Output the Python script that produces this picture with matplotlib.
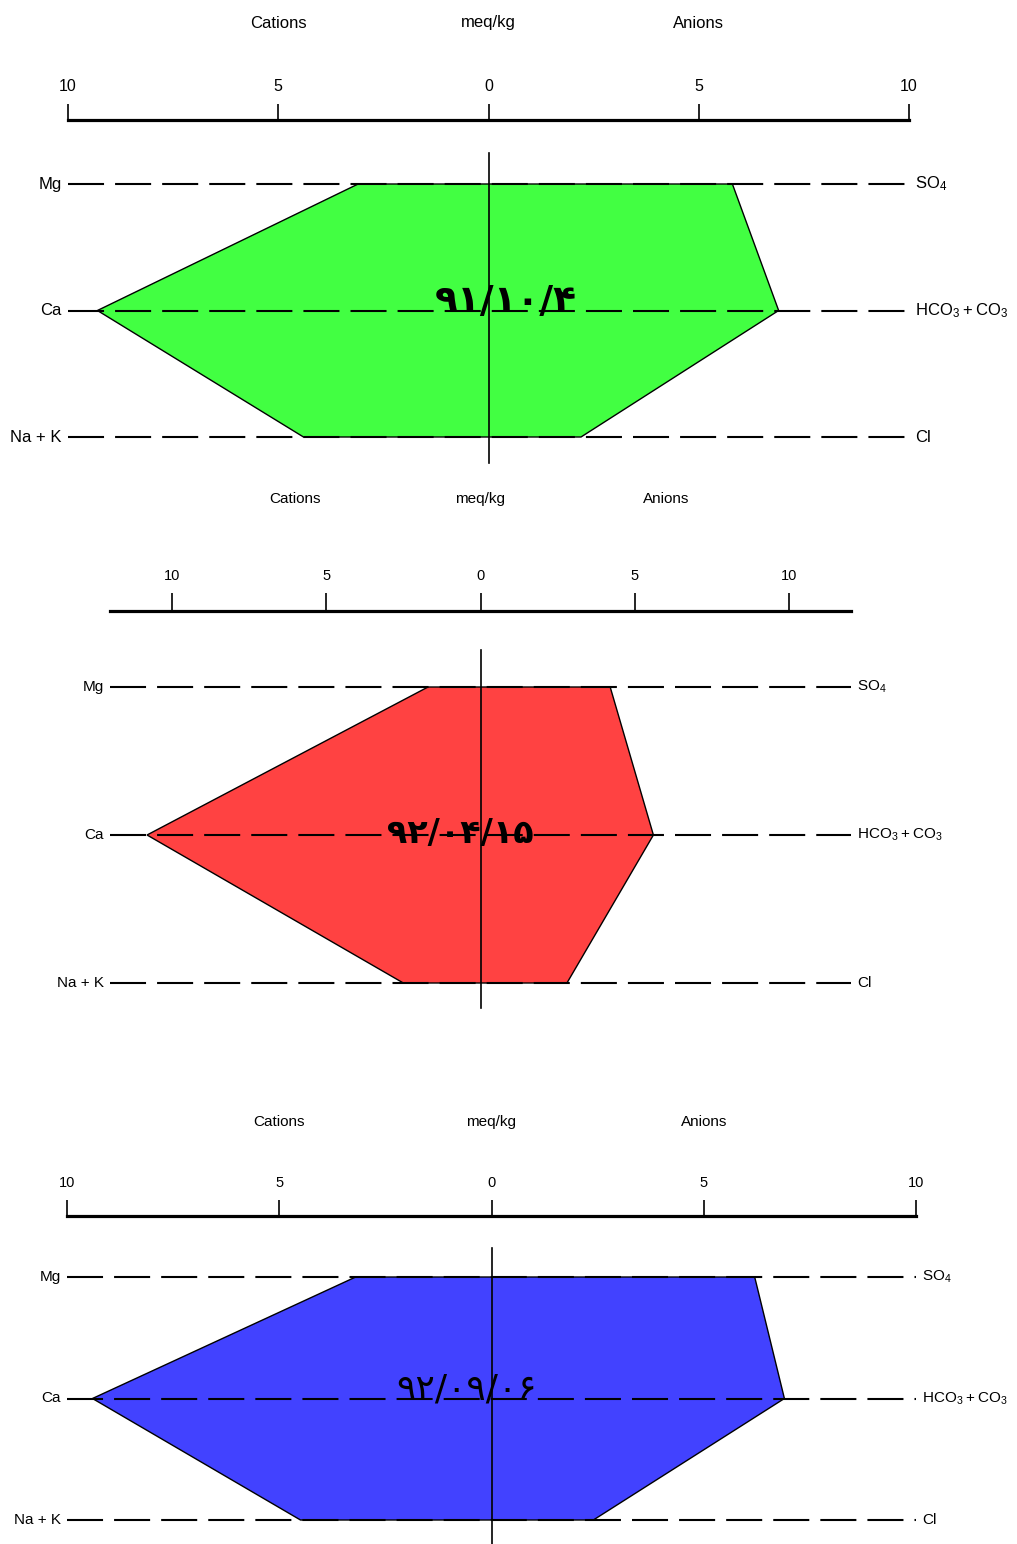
import matplotlib
matplotlib.use('Agg')
import matplotlib.pyplot as plt
from matplotlib.patches import Polygon
from matplotlib.ticker import FuncFormatter

plt.rcParams['font.family'] = ['Liberation Sans', 'DejaVu Sans']

# Stiff diagram data (meq/kg) for three sampling dates
cation_labels = ['Mg', 'Ca', 'Na + K']
anion_labels = [r'$\mathregular{SO_4}$', r'$\mathregular{HCO_3 + CO_3}$', 'Cl']
sample_dates = ['۹۱/۱۰/۴', '۹۲/۰۴/۱۵', '۹۲/۰۹/۰۶']
fill_colors = ['#42FF42', '#FF4242', '#4242FF']

mg = [3.1, 1.7, 3.2]
ca = [9.3, 10.8, 9.4]
na_k = [4.4, 2.5, 4.5]
so4 = [5.8, 4.2, 6.2]
hco3_co3 = [6.9, 5.6, 6.9]
cl = [2.2, 2.8, 2.4]

scale_limits = [10, 12, 10]
scale_ticks = [-10, -5, 0, 5, 10]

W, H = 1017, 1544
fig = plt.figure(figsize=(W / 100, H / 100), dpi=100)
fig.patch.set_facecolor('white')

# panel geometry in pixels
frames = [
    dict(left=68, right=909, top=120, row0=184, step=126.5, bottom=463,
         vtop=153, header=23, fs=12, tfs=11.5, tick=16, date_fs=27, bold=True,
         dx=0.4, dy=0.93),
    dict(left=110, right=851, top=611, row0=687, step=148, bottom=1008,
         vtop=650, header=499, fs=11, tfs=10.5, tick=18, date_fs=24, bold=True,
         dx=-0.65, dy=0.99),
    dict(left=67, right=916, top=1216, row0=1277, step=121.5, bottom=1544,
         vtop=1248, header=1122, fs=11, tfs=10.5, tick=16, date_fs=26, bold=False,
         dx=-0.59, dy=0.93),
]

rows = [0, 1, 2]

for i, f in enumerate(frames):
    ax = fig.add_axes([f['left'] / W, 1 - f['bottom'] / H,
                       (f['right'] - f['left']) / W, (f['bottom'] - f['top']) / H])
    lim = scale_limits[i]
    y_top = (f['top'] - f['row0']) / f['step']
    y_bot = (f['bottom'] - f['row0']) / f['step']
    ax.set_xlim(-lim, lim)
    ax.set_ylim(y_bot, y_top)
    ax.patch.set_visible(False)
    for s in ['left', 'right', 'bottom']:
        ax.spines[s].set_visible(False)
    ax.spines['top'].set_linewidth(2.3)
    ax.xaxis.set_ticks_position('top')
    ax.set_xticks(scale_ticks)
    ax.xaxis.set_major_formatter(FuncFormatter(lambda v, p: f'{abs(int(round(v)))}'))
    ax.tick_params(axis='x', direction='out', length=f['tick'] * 0.72, width=1.2,
                   pad=7, labelsize=f['tfs'])
    ax.set_yticks([])

    xs = [-mg[i], -ca[i], -na_k[i], cl[i], hco3_co3[i], so4[i]]
    ys = [rows[0], rows[1], rows[2], rows[2], rows[1], rows[0]]
    ax.add_patch(Polygon(list(zip(xs, ys)), closed=True, facecolor=fill_colors[i],
                         edgecolor='black', linewidth=1.0, zorder=2))

    for r in rows:
        ax.plot([-lim, lim], [r, r], color='black', lw=1.5,
                dashes=(17.3, 5.3), zorder=3)

    ax.plot([0, 0], [(f['vtop'] - f['row0']) / f['step'], y_bot],
            color='black', lw=1.2, zorder=4, clip_on=False)

    for r, lab in zip(rows, cation_labels):
        ax.annotate(lab, xy=(-lim, r), xytext=(-4.5, 0), textcoords='offset points',
                    ha='right', va='center', fontsize=f['fs'])
    for r, lab in zip(rows, anion_labels):
        ax.annotate(lab, xy=(lim, r), xytext=(4.5, 0), textcoords='offset points',
                    ha='left', va='center', fontsize=f['fs'])

    y_head = (f['header'] - f['row0']) / f['step']
    for xh, lab in zip([-lim / 2, 0, lim / 2], ['Cations', 'meq/kg', 'Anions']):
        ax.text(xh, y_head, lab, ha='center', va='center', fontsize=f['fs'],
                clip_on=False)

    ax.text(f['dx'], f['dy'], sample_dates[i], ha='center', va='center',
            fontsize=f['date_fs'], family='DejaVu Sans',
            fontweight='bold' if f['bold'] else 'normal', zorder=5)

fig.savefig('out.png', dpi=100, facecolor='white')
